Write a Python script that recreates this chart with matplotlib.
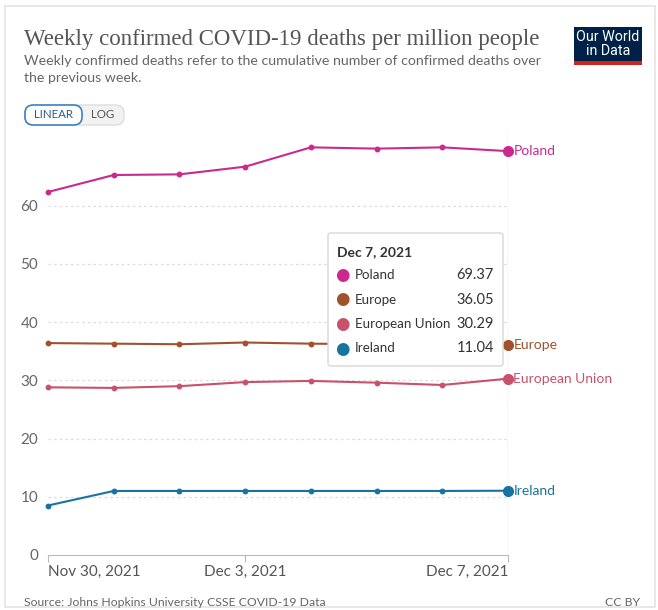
import numpy as np
import matplotlib.pyplot as plt
from matplotlib.patches import FancyBboxPatch, Rectangle

# ----------------------------
# Datos
# ----------------------------
dates = ['Nov 30, 2021', 'Dec 1, 2021', 'Dec 2, 2021', 'Dec 3, 2021',
         'Dec 4, 2021', 'Dec 5, 2021', 'Dec 6, 2021', 'Dec 7, 2021']
poland = [62.35, 65.27, 65.38, 66.70, 70.02, 69.80, 70.02, 69.37]
europe = [36.4, 36.3, 36.2, 36.5, 36.3, 36.2, 36.1, 36.05]
eu = [28.8, 28.7, 29.0, 29.7, 29.9, 29.6, 29.2, 30.29]
ireland = [8.5, 11.0, 11.0, 11.0, 11.0, 11.0, 11.0, 11.04]

series_names = ['Poland', 'Europe', 'European Union', 'Ireland']
series_vals = [poland, europe, eu, ireland]
colors = ['#CA2A8D', '#A0522D', '#C8516B', '#18739E']
yticks = [0, 10, 20, 30, 40, 50, 60]
xtick_idx = [0, 3, 7]

W, H = 658, 610
fig = plt.figure(figsize=(W / 100, H / 100), dpi=100)
plt.rcParams['font.family'] = ['Lato', 'DejaVu Sans']


def fx(px):
    return px / W


def fy(py):
    return 1 - py / H


# marco de la tarjeta
fig.patches.append(Rectangle((fx(5), fy(607)), fx(650), (607 - 6) / H,
                             transform=fig.transFigure, facecolor='white',
                             edgecolor='#e4e4e4', lw=1.2, zorder=-5))

# ----------------------------
# Ejes
# ----------------------------
ax = fig.add_axes([fx(48), fy(555), fx(460), (555 - 130) / H])
x = np.arange(len(dates))
ax.set_xlim(0, 7)
ax.set_ylim(0, 73)

for yv in yticks[1:]:
    ax.axhline(yv, color='#dcdcdc', lw=0.9, ls=(0, (2, 2.5)), zorder=1)
ax.axvline(7, color='#dddddd', lw=1, zorder=1)

for name, vals, c in zip(series_names, series_vals, colors):
    ax.plot(x, vals, color=c, lw=1.5, marker='o', ms=3.2, zorder=3, clip_on=False)
    ax.plot(x[-1], vals[-1], 'o', color=c, ms=7, zorder=4, clip_on=False)
    ax.annotate(name, (x[-1], vals[-1]), xytext=(3.8, 0), textcoords='offset points',
                va='center', ha='left', color=c, fontsize=10, annotation_clip=False)

for s in ['top', 'right', 'left']:
    ax.spines[s].set_visible(False)
ax.spines['bottom'].set_color('#bbbbbb')
ax.set_yticks(yticks)
ax.set_yticklabels([str(v) for v in yticks], fontsize=11, color='#666666')
ax.tick_params(axis='y', length=0, pad=7)
ax.set_xticks(xtick_idx)
ax.set_xticklabels([dates[i] for i in xtick_idx], fontsize=11, color='#555555')
ax.tick_params(axis='x', length=5, color='#bbbbbb', pad=2)
lbls = ax.get_xticklabels()
lbls[0].set_ha('left')
lbls[-1].set_ha('right')
ax.set_facecolor('none')

# ----------------------------
# Tooltip
# ----------------------------
fig.patches.append(FancyBboxPatch((fx(328), fy(366)), fx(175), (366 - 233) / H,
                                  boxstyle='round,pad=0,rounding_size=0.004',
                                  transform=fig.transFigure, facecolor='white',
                                  edgecolor='#d8d8d8', lw=1, zorder=5))
fig.text(fx(337), fy(252), dates[-1], fontsize=10, fontweight='bold', color='#333333',
         va='center', zorder=6)
for i, (name, vals, c) in enumerate(zip(series_names, series_vals, colors)):
    yy = fy(275 + i * 24.5)
    fig.text(fx(342), yy, '\u25CF', color=c, fontsize=12, ha='center', va='center',
             family='DejaVu Sans', zorder=6)
    fig.text(fx(355), yy, name, fontsize=9.6, color='#333333', va='center', zorder=6)
    fig.text(fx(494), yy, f'{vals[-1]:.2f}', fontsize=10.5, color='#333333',
             ha='right', va='center', zorder=6)

# ----------------------------
# Textos de cabecera y pie
# ----------------------------
fig.text(fx(24), fy(40), 'Weekly confirmed COVID-19 deaths per million people',
         family=['Liberation Serif', 'DejaVu Serif'], fontsize=16.5, color='#555555',
         va='center')
fig.text(fx(24), fy(61), 'Weekly confirmed deaths refer to the cumulative number of confirmed deaths over',
         fontsize=10.2, color='#666666', va='center')
fig.text(fx(24), fy(78), 'the previous week.', fontsize=10.2, color='#666666', va='center')

# botones LINEAR / LOG
fig.patches.append(FancyBboxPatch((fx(25), fy(125)), fx(99), 20 / H,
                                  boxstyle='round,pad=0,rounding_size=0.013',
                                  transform=fig.transFigure, facecolor='#f2f2f2',
                                  edgecolor='#dddddd', lw=1))
fig.patches.append(FancyBboxPatch((fx(25), fy(125)), fx(57), 20 / H,
                                  boxstyle='round,pad=0,rounding_size=0.013',
                                  transform=fig.transFigure, facecolor='white',
                                  edgecolor='#3b82c4', lw=1.2))
fig.text(fx(53.5), fy(115), 'LINEAR', fontsize=8.3, color='#2a5d8f', ha='center', va='center')
fig.text(fx(103), fy(115), 'LOG', fontsize=8.3, color='#555555', ha='center', va='center')

# logo
fig.patches.append(Rectangle((fx(574), fy(65)), fx(68), 38 / H, transform=fig.transFigure,
                             facecolor='#002147', edgecolor='none'))
fig.patches.append(Rectangle((fx(574), fy(65)), fx(68), 4 / H, transform=fig.transFigure,
                             facecolor='#CE261E', edgecolor='none'))
fig.text(fx(608), fy(44), 'Our World\nin Data', fontsize=10.3, color='white',
         ha='center', va='center', linespacing=0.95,
         family=['Roboto', 'DejaVu Sans'])

fig.text(fx(24), fy(603), 'Source: Johns Hopkins University CSSE COVID-19 Data',
         fontsize=8.8, color='#666666', va='center')
fig.text(fx(640), fy(603), 'CC BY', fontsize=8.8, color='#666666', va='center', ha='right')

fig.savefig('out.png', dpi=100)
